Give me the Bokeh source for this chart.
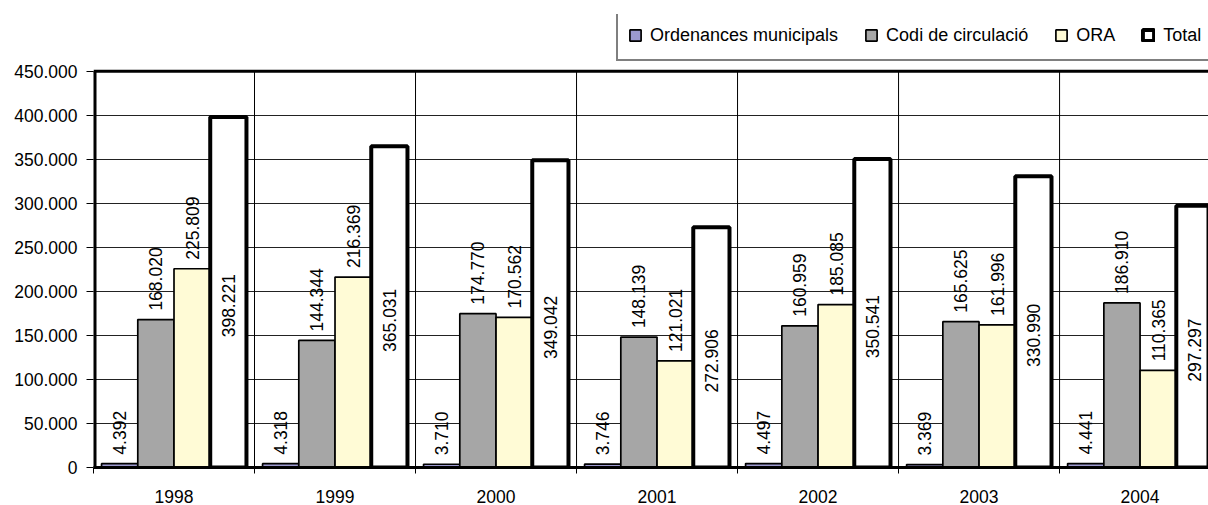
import math
from bokeh.plotting import figure
from bokeh.models import Range1d, FixedTicker, ColumnDataSource, Legend, LegendItem
from bokeh.core.properties import value
from bokeh.embed import file_html
from bokeh.resources import INLINE

years = ["1998", "1999", "2000", "2001", "2002", "2003", "2004"]
ordenances = [4392, 4318, 3710, 3746, 4497, 3369, 4441]
codi = [168020, 144344, 174770, 148139, 160959, 165625, 186910]
ora = [225809, 216369, 170562, 121021, 185085, 161996, 110365]
total = [398221, 365031, 349042, 272906, 350541, 330990, 297297]
series_names = ["Ordenances municipals", "Codi de circulació", "ORA", "Total"]

y_ticks = [0, 50000, 100000, 150000, 200000, 250000, 300000, 350000, 400000, 450000]
y_labels = ["0", "50.000", "100.000", "150.000", "200.000", "250.000",
            "300.000", "350.000", "400.000", "450.000"]

FONT = value("Liberation Sans")
FS = "17.5px"
FRAME_H = 397          # pixel height of the value area (0..450.000)
TOP_SPACE = 57         # pixels above the value area reserved for the legend
Y_MAX = 450000
PX = Y_MAX / FRAME_H   # data units per pixel
Y_END = Y_MAX + TOP_SPACE * PX
N = len(years)
X_END = 6.925


def fmt(v):
    return f"{v:,}".replace(",", ".")


p = figure(width=1208, height=505, output_backend="svg", toolbar_location=None,
           x_range=Range1d(0, X_END), y_range=Range1d(0, Y_END),
           min_border_left=93, min_border_right=0, min_border_top=14,
           min_border_bottom=37)
p.outline_line_color = None
p.background_fill_color = "white"

# vertical separators between categories (only within the value area)
bounds = list(range(1, N))
p.segment(x0=bounds, y0=[0] * len(bounds), x1=bounds, y1=[Y_MAX] * len(bounds),
          line_color="black", line_width=1)

offsets = [-0.3375, -0.1125, 0.1125, 0.3375]
fills = ["#9C99CF", "#A6A6A6", "#FFFBD6", "#FFFFFF"]
lws = [1.7, 1.7, 1.7, 4]
data = [ordenances, codi, ora, total]

renderers = []
for k in range(4):
    xs = [i + 0.5 + offsets[k] for i in range(N)]
    src = ColumnDataSource(dict(x=xs, top=data[k]))
    r = p.vbar(x="x", top="top", width=0.225, source=src, fill_color=fills[k],
               line_color="black", line_width=lws[k])
    renderers.append(r)

# frame of the value area: top line and left line
p.segment(x0=[0], y0=[Y_MAX], x1=[N], y1=[Y_MAX], line_color="black", line_width=3)
p.segment(x0=[0], y0=[0], x1=[0], y1=[Y_MAX], line_color="black", line_width=6)

# labels above bars for first three series
for k in range(3):
    xs = [i + 0.5 + offsets[k] for i in range(N)]
    ys = [v + 9 * PX for v in data[k]]
    txt = [fmt(v) for v in data[k]]
    p.text(x=xs, y=ys, text=txt, angle=math.pi / 2, text_align="left",
           text_baseline="middle", text_font=FONT, text_font_size=FS,
           text_color="black")

# labels inside total bars
xs = [i + 0.5 + offsets[3] for i in range(N)]
ys = [v / 2 - 13.5 * PX for v in total]
p.text(x=xs, y=ys, text=[fmt(v) for v in total], angle=math.pi / 2,
       text_align="center", text_baseline="middle", text_font=FONT,
       text_font_size=FS, text_color="black")

# y axis
p.yaxis.ticker = FixedTicker(ticks=y_ticks, minor_ticks=[])
p.yaxis.major_label_overrides = {t: l for t, l in zip(y_ticks, y_labels)}
p.yaxis.major_tick_out = 7
p.yaxis.major_tick_in = 0
p.yaxis.major_tick_line_color = "black"
p.yaxis.minor_tick_line_color = None
p.yaxis.axis_line_color = None
p.yaxis.major_label_standoff = 9
p.yaxis.major_label_text_font = "Liberation Sans"
p.yaxis.major_label_text_font_size = FS
p.yaxis.major_label_text_color = "black"

# x axis
centers = [i + 0.5 for i in range(N)]
p.xaxis.ticker = FixedTicker(ticks=centers, minor_ticks=list(range(N + 1)))
p.xaxis.major_label_overrides = {c: y for c, y in zip(centers, years)}
p.xaxis.major_tick_line_color = None
p.xaxis.major_tick_out = 0
p.xaxis.major_tick_in = 0
p.xaxis.minor_tick_line_color = "black"
p.xaxis.minor_tick_out = 6
p.xaxis.minor_tick_in = 0
p.xaxis.axis_line_width = 3
p.xaxis.axis_line_color = "black"
p.xaxis.major_label_standoff = 16
p.xaxis.major_label_text_font = "Liberation Sans"
p.xaxis.major_label_text_font_size = FS
p.xaxis.major_label_text_color = "black"

# grids
p.xgrid.grid_line_color = None
p.ygrid.grid_line_color = "#222222"
p.ygrid.grid_line_width = 1

legend = Legend(
    items=[LegendItem(label=series_names[k], renderers=[renderers[k]]) for k in range(4)],
    location=(523, FRAME_H + 9), orientation="horizontal",
    glyph_width=14, glyph_height=14, label_standoff=8, spacing=26,
    padding=10, label_height=28,
    label_text_font="Liberation Sans", label_text_font_size="18px",
    label_text_color="black",
    border_line_color="black", border_line_width=2,
    background_fill_color="white", background_fill_alpha=1.0,
)
p.add_layout(legend)

open("out.html", "w").write(file_html(p, INLINE))
